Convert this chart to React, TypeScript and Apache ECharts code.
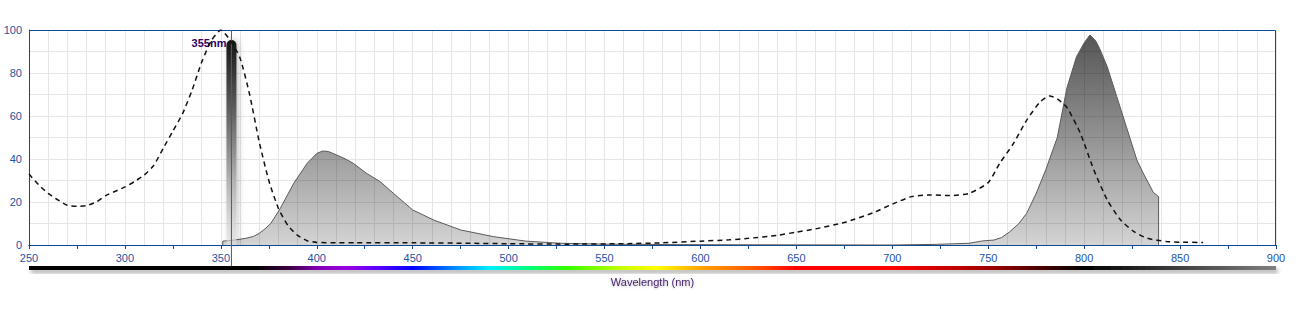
import React, { useEffect, useRef } from "react";
import * as echarts from "echarts";

const X_MIN = 250;
const X_MAX = 900;
const Y_MIN = 0;
const Y_MAX = 100;

const absorptionWl = [250, 255, 260, 265, 270, 275, 280, 285, 290, 295, 300, 305, 310, 315, 320, 325, 330, 335, 340, 345, 350, 355, 360, 365, 370, 375, 380, 385, 390, 395, 400, 410, 420, 450, 480, 500, 530, 560, 580, 600, 615, 625, 640, 650, 660, 675, 690, 700, 710, 720, 730, 740, 750, 756, 763, 770, 777, 782, 786, 791, 798, 805, 812, 819, 826, 833, 843, 850, 862];
const absorptionVal = [33, 28, 24, 21, 18.5, 18, 18.3, 20, 23, 25, 27, 29.5, 32.5, 37, 45, 53, 61, 72, 85, 95, 100, 95, 87, 70, 48, 30, 17, 9, 4.5, 2, 1.2, 1, 1, 1, 0.8, 0.6, 0.4, 0.6, 1, 1.8, 2.4, 3.1, 4.5, 6, 7.5, 10.5, 15, 19, 22.5, 23.3, 23, 24, 29, 38, 47, 58, 66.5, 69.3, 68, 64, 52, 35, 21, 11.6, 6.2, 3.1, 1.6, 1.3, 1.2];

const emission1Wl = [351, 351, 357, 363, 367, 370, 373, 376, 381, 388, 395, 400, 403, 406, 410, 415, 419, 426, 433, 440, 450, 461, 475, 492, 509, 527, 550, 580, 620, 700];
const emission1Val = [0, 1.8, 2.3, 3.1, 4, 5.4, 7.5, 10, 17, 28.7, 38, 42.6, 43.7, 43.5, 42, 40, 38, 33.3, 29.5, 24, 16.3, 11.6, 7, 3.9, 1.8, 0.8, 0.4, 0.2, 0.1, 0];

const emission2Wl = [700, 723, 740, 747, 753, 757, 761, 766, 770, 775, 780, 786, 791, 796, 800, 803, 806, 808, 812, 817, 822, 827.5, 831, 833.6, 836, 838.8, 838.8];
const emission2Val = [0, 0.3, 0.8, 1.9, 2.3, 3.5, 6, 10, 14.7, 24, 35, 50, 73, 87.6, 94, 97.7, 95, 91.5, 83, 69, 55, 39.5, 33, 28.7, 24.5, 22.5, 0];

const laserWl = [355];
const laserVal = [95.3];
const laserLabel = "355nm";

const xAxisName = "Wavelength (nm)";

const spectrumStops: [number, string][] = [
  [250, "#000000"],
  [368, "#000000"],
  [385, "#3a0040"],
  [400, "#8000b0"],
  [415, "#9a00e0"],
  [432, "#5a00ff"],
  [450, "#0000ff"],
  [470, "#0080ff"],
  [490, "#00f0ff"],
  [510, "#00ff80"],
  [530, "#30ff00"],
  [560, "#ccff00"],
  [577, "#ffff00"],
  [600, "#ffa500"],
  [630, "#ff5000"],
  [650, "#ff0000"],
  [700, "#ff0000"],
  [750, "#a00000"],
  [780, "#400000"],
  [800, "#000000"],
  [900, "#808080"],
];

const zip = (a: number[], b: number[]) => a.map((v, i) => [v, b[i]]);

const AXIS_BLUE = "#0a4a9e";
const LABEL_BLUE = "#1f52a0";
const GRID_GRAY = "#e6e6e6";

export default function App() {
  const ref = useRef<HTMLDivElement>(null);
  useEffect(() => {
    document.body.style.margin = "0";
    const chart = echarts.init(ref.current!, null, { renderer: "svg" });
    const gridLeft = 29, gridRight = 32, gridTop = 30, gridBottom = 80;
    const W = 1308, H = 325;
    const plotW = W - gridLeft - gridRight;
    const plotBottom = H - gridBottom;
    const plotH = plotBottom - gridTop;

    const areaFill = new echarts.graphic.LinearGradient(
      0, gridTop, 0, plotBottom,
      [
        { offset: 0, color: "rgba(0,0,0,0.68)" },
        { offset: 1, color: "rgba(0,0,0,0.17)" },
      ],
      true
    );

    const specGradient = new echarts.graphic.LinearGradient(
      0, 0, 1, 0,
      spectrumStops.map(([wl, c]) => ({ offset: (wl - X_MIN) / (X_MAX - X_MIN), color: c }))
    );

    const option: any = {
      animation: false,
      backgroundColor: "#ffffff",
      grid: {
        left: gridLeft, right: gridRight, top: gridTop, bottom: gridBottom,
        show: false,
      },
      xAxis: [
        {
          type: "value", min: X_MIN, max: X_MAX, interval: 10, position: "bottom",
          axisLine: { show: true, lineStyle: { color: AXIS_BLUE, width: 1 } },
          axisTick: { show: false }, axisLabel: { show: false },
          splitLine: { show: true, lineStyle: { color: GRID_GRAY, width: 1 } },
        },
        {
          type: "value", min: X_MIN, max: X_MAX, interval: 25, position: "bottom",
          axisLine: { show: true, lineStyle: { color: AXIS_BLUE, width: 1 } },
          axisTick: { show: true, length: 4, lineStyle: { color: AXIS_BLUE } },
          axisLabel: {
            show: true, margin: 7, color: LABEL_BLUE, fontSize: 11,
            fontFamily: "Liberation Sans, Arial, sans-serif",
            formatter: (v: number) => (v % 50 === 0 ? String(v) : ""),
          },
          splitLine: { show: false },
        },
      ],
      yAxis: {
        type: "value", min: Y_MIN, max: Y_MAX, interval: 10,
        axisLine: { show: true, lineStyle: { color: AXIS_BLUE, width: 1 } },
        axisTick: { show: false },
        axisLabel: {
          margin: 7, color: LABEL_BLUE, fontSize: 11,
          fontFamily: "Liberation Sans, Arial, sans-serif",
          formatter: (v: number) => (v % 20 === 0 ? String(v) : ""),
        },
        splitLine: { show: true, lineStyle: { color: GRID_GRAY, width: 1 } },
      },
      series: [
        {
          type: "line", xAxisIndex: 0, data: zip(emission1Wl, emission1Val), symbol: "none",
          lineStyle: { color: "#5a5a5a", width: 1 }, areaStyle: { color: areaFill, opacity: 1 }, z: 2,
        },
        {
          type: "line", xAxisIndex: 0, data: zip(emission2Wl, emission2Val), symbol: "none",
          lineStyle: { color: "#5a5a5a", width: 1 }, areaStyle: { color: areaFill, opacity: 1 }, z: 2,
        },
        {
          type: "custom", xAxisIndex: 0, data: zip(laserWl, laserVal), clip: false, z: 3,
          renderItem: (params: any, api: any) => {
            const top = api.coord([api.value(0), api.value(1)]);
            const base = api.coord([api.value(0), 0]);
            const cs = params.coordSys;
            const w = 10;
            return {
              type: "group",
              children: [
                {
                  type: "rect",
                  shape: { x: top[0] - w / 2 + 1, y: top[1], width: w, height: base[1] - top[1], r: [5, 5, 0, 0] },
                  style: {
                    fill: new echarts.graphic.LinearGradient(0, 0, 0, 1, [
                      { offset: 0, color: "#151515" },
                      { offset: 0.3, color: "#555555" },
                      { offset: 0.7, color: "#b5b5b5" },
                      { offset: 1, color: "rgba(225,225,225,0.6)" },
                    ]),
                    shadowBlur: 6, shadowColor: "rgba(0,0,0,0.25)", shadowOffsetX: 2,
                  },
                },
                {
                  type: "line",
                  shape: { x1: top[0] + 1, y1: cs.y, x2: top[0] + 1, y2: base[1] + 24 },
                  style: { stroke: "#5a5a5a", lineWidth: 1 },
                },
                {
                  type: "text",
                  style: {
                    x: top[0] - 4, y: top[1] + 3, text: laserLabel, align: "right", verticalAlign: "middle",
                    fill: "#330066", fontWeight: "bold", fontSize: 11, fontFamily: "Liberation Sans, Arial, sans-serif",
                  },
                },
              ],
            };
          },
        },
        {
          type: "line", xAxisIndex: 0, data: zip(absorptionWl, absorptionVal), symbol: "none", smooth: 0.2,
          lineStyle: { color: "#111111", width: 1.5, type: [5, 4] }, z: 4,
        },
      ],
      graphic: [
        {
          type: "polyline",
          shape: { points: [[gridLeft, gridTop + 0.5], [gridLeft + plotW - 0.5, gridTop + 0.5], [gridLeft + plotW - 0.5, gridTop + plotH]] },
          style: { fill: null, stroke: AXIS_BLUE, lineWidth: 1 },
          silent: true, z: 1,
        },
        {
          type: "rect",
          shape: { x: gridLeft, y: 266, width: plotW, height: 4 },
          style: { fill: specGradient, shadowBlur: 4, shadowOffsetY: 3, shadowOffsetX: 2, shadowColor: "rgba(0,0,0,0.35)" },
          z: 10,
        },
        {
          type: "text", x: gridLeft + plotW / 2, y: 282,
          style: {
            text: xAxisName, align: "center", verticalAlign: "middle", fill: "#4a2670",
            fontSize: 11, fontFamily: "Liberation Sans, Arial, sans-serif",
            textShadowColor: "rgba(0,0,0,0.25)", textShadowBlur: 2, textShadowOffsetY: 1,
          },
          z: 10,
        },
      ],
    };
    chart.setOption(option);
    return () => chart.dispose();
  }, []);
  return <div ref={ref} style={{ width: 1308, height: 325 }} />;
}
